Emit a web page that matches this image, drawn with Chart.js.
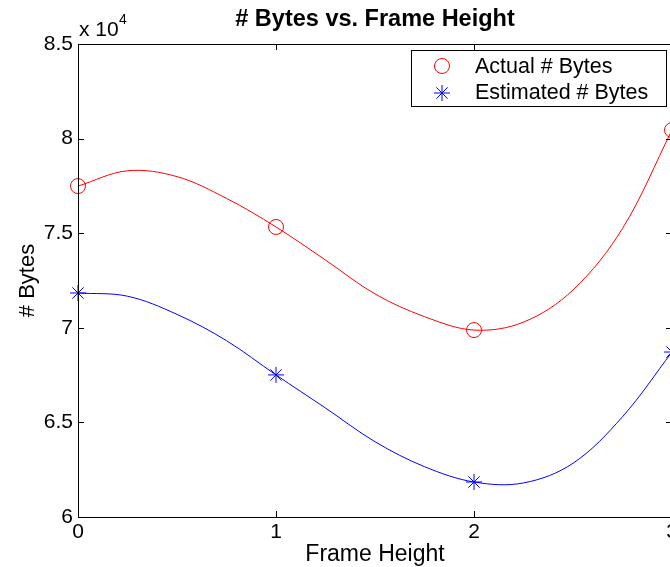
<!DOCTYPE html>
<html>
<head>
<meta charset="utf-8">
<script src="https://cdn.jsdelivr.net/npm/chart.js@4.4.1/dist/chart.umd.min.js"></script>
<style>
  html, body { margin: 0; padding: 0; background: #fff; overflow: hidden; }
  #wrap { position: absolute; left: 0; top: 0; width: 700px; height: 567px; }
</style>
</head>
<body>
<div id="wrap"><canvas id="bytesChart"></canvas></div>
<script>
// measured points
var frameHeights = [0, 1, 2, 3];
var actualBytes = [77490, 75330, 69880, 80450];
var estimatedBytes = [71840, 67510, 61850, 68720];

// smooth curves
var curveX = [0, 0.25, 0.5, 0.75, 1, 1.25, 1.5, 1.75, 2, 2.25, 2.5, 2.75, 3];
var actualCurve = [77490, 78300, 77990, 76840, 75330, 73580, 71790, 70590, 69880, 70300, 72000, 75250, 80450];
var estimatedCurve = [71840, 71670, 70710, 69320, 67510, 65760, 63980, 62660, 61850, 61800, 62840, 65300, 68720];

var xTicks = [0, 1, 2, 3];
var yTicks = [60000, 65000, 70000, 75000, 80000, 85000];

var FONT = '"Liberation Sans", Arial, Helvetica, sans-serif';

function pairs(xs, ys) {
  return xs.map(function (x, i) { return { x: x, y: ys[i] }; });
}

function drawStar(ctx, x, y, r) {
  ctx.beginPath();
  ctx.moveTo(x - r, y); ctx.lineTo(x + r, y);
  ctx.moveTo(x, y - r); ctx.lineTo(x, y + r);
  var d = r * 0.7071;
  ctx.moveTo(x - d, y - d); ctx.lineTo(x + d, y + d);
  ctx.moveTo(x - d, y + d); ctx.lineTo(x + d, y - d);
  ctx.stroke();
}

// axes box, inward ticks, titles and legend, drawn like matlab
var matlabLook = {
  id: 'matlabLook',
  afterDraw: function (chart) {
    var ctx = chart.ctx;
    var a = chart.chartArea;
    var xs = chart.scales.x, ys = chart.scales.y;
    ctx.save();
    ctx.strokeStyle = '#000';
    ctx.lineWidth = 1;
    ctx.strokeRect(a.left + 0.5, a.top + 0.5, a.right - a.left, a.bottom - a.top);
    ctx.beginPath();
    xTicks.forEach(function (v) {
      var px = Math.round(xs.getPixelForValue(v)) + 0.5;
      ctx.moveTo(px, a.bottom); ctx.lineTo(px, a.bottom - 6);
      ctx.moveTo(px, a.top); ctx.lineTo(px, a.top + 6);
    });
    yTicks.forEach(function (v) {
      var py = Math.round(ys.getPixelForValue(v)) + 0.5;
      ctx.moveTo(a.left, py); ctx.lineTo(a.left + 6, py);
      ctx.moveTo(a.right, py); ctx.lineTo(a.right - 6, py);
    });
    ctx.stroke();

    ctx.fillStyle = '#000';
    ctx.textAlign = 'center';
    ctx.textBaseline = 'alphabetic';
    ctx.font = 'bold 23.5px ' + FONT;
    ctx.fillText('# Bytes vs. Frame Height', (a.left + a.right) / 2, 26);

    ctx.font = '23px ' + FONT;
    ctx.fillText('Frame Height', (a.left + a.right) / 2, 561);

    ctx.save();
    ctx.translate(34, (a.top + a.bottom) / 2);
    ctx.rotate(-Math.PI / 2);
    ctx.font = '22px ' + FONT;
    ctx.fillText('# Bytes', 0, 0);
    ctx.restore();

    ctx.font = '21px ' + FONT;
    ctx.textAlign = 'left';
    ctx.fillText('x 10', 79, 36);
    ctx.font = '14px ' + FONT;
    ctx.fillText('4', 119, 24);

    // legend
    ctx.fillStyle = '#fff';
    ctx.fillRect(412, 51, 254, 55);
    ctx.strokeRect(411.5, 50.5, 255, 56);
    ctx.strokeStyle = '#ff0000';
    ctx.beginPath();
    ctx.arc(442, 66, 7.5, 0, Math.PI * 2);
    ctx.stroke();
    ctx.strokeStyle = '#0000ff';
    drawStar(ctx, 442, 93, 8);
    ctx.fillStyle = '#000';
    ctx.font = '21.5px ' + FONT;
    ctx.textBaseline = 'middle';
    ctx.fillText('Actual # Bytes', 475, 67);
    ctx.fillText('Estimated # Bytes', 475, 93);
    ctx.restore();
  }
};

document.addEventListener('DOMContentLoaded', function () {
  var ctx = document.getElementById('bytesChart').getContext('2d');
  new Chart(ctx, {
    type: 'line',
    data: {
      datasets: [{
        label: 'Actual # Bytes',
        data: pairs(frameHeights, actualBytes),
        showLine: false,
        pointStyle: 'circle',
        pointRadius: 7.5,
        pointBorderWidth: 1,
        pointBorderColor: '#ff0000',
        pointBackgroundColor: 'rgba(0,0,0,0)',
        clip: false
      }, {
        label: 'Estimated # Bytes',
        data: pairs(frameHeights, estimatedBytes),
        showLine: false,
        pointStyle: 'star',
        pointRadius: 8,
        pointBorderWidth: 1,
        pointBorderColor: '#0000ff',
        pointBackgroundColor: '#0000ff',
        clip: false
      }, {
        label: 'actual fit',
        data: pairs(curveX, actualCurve),
        borderColor: '#ff0000',
        borderWidth: 1,
        pointRadius: 0,
        tension: 0.35
      }, {
        label: 'estimated fit',
        data: pairs(curveX, estimatedCurve),
        borderColor: '#0000ff',
        borderWidth: 1,
        pointRadius: 0,
        tension: 0.35
      }]
    },
    options: {
      responsive: true,
      maintainAspectRatio: false,
      animation: false,
      layout: { padding: { top: 44, right: 28, left: 0, bottom: 0 } },
      plugins: {
        legend: { display: false },
        title: { display: false },
        tooltip: { enabled: false }
      },
      scales: {
        x: {
          type: 'linear',
          min: 0,
          max: 3,
          afterBuildTicks: function (scale) {
            scale.ticks = xTicks.map(function (v) { return { value: v }; });
          },
          afterFit: function (scale) { scale.height = 50; },
          grid: { display: false, drawTicks: false },
          border: { display: false },
          ticks: {
            color: '#000',
            padding: 3,
            maxRotation: 0,
            font: { family: FONT, size: 21 }
          }
        },
        y: {
          type: 'linear',
          min: 60000,
          max: 85000,
          afterBuildTicks: function (scale) {
            scale.ticks = yTicks.map(function (v) { return { value: v }; });
          },
          afterFit: function (scale) { scale.width = 78; },
          grid: { display: false, drawTicks: false },
          border: { display: false },
          ticks: {
            color: '#000',
            padding: 5,
            font: { family: FONT, size: 21 },
            callback: function (v) { return String(v / 10000); }
          }
        }
      }
    },
    plugins: [matlabLook]
  });
});
</script>
</body>
</html>
